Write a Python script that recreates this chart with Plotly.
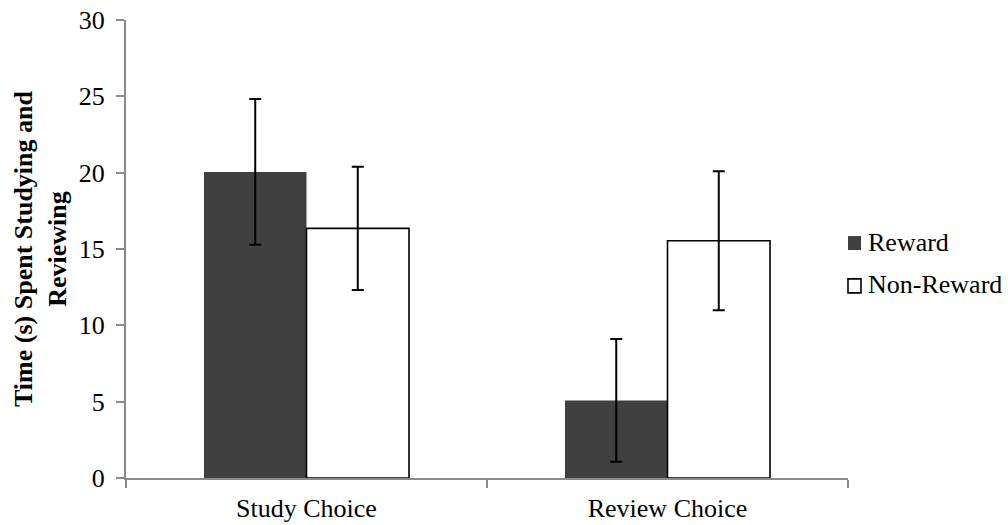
import plotly.graph_objects as go

# Data: mean time (s) per condition with error bar half-lengths
categories = ["Study Choice", "Review Choice"]
series_names = ["Reward", "Non-Reward"]
reward_means = [20.05, 5.08]
reward_err = [4.77, 4.02]
nonreward_means = [16.35, 15.54]
nonreward_err = [4.03, 4.55]
y_ticks = [0, 5, 10, 15, 20, 25, 30]

FONT = "Liberation Serif"
AXIS_GRAY = "#8a8a8a"
REWARD_FILL = "#404040"

fig = go.Figure()
fig.add_trace(go.Bar(
    x=categories, y=reward_means, name=series_names[0],
    marker=dict(color=REWARD_FILL, line=dict(width=0)),
    error_y=dict(type="data", array=reward_err, color="black", thickness=2, width=6),
    showlegend=False,
))
fig.add_trace(go.Bar(
    x=categories, y=nonreward_means, name=series_names[1],
    marker=dict(color="white", line=dict(color="black", width=1.6)),
    error_y=dict(type="data", array=nonreward_err, color="black", thickness=2, width=6),
    showlegend=False,
))

fig.update_layout(
    width=1008, height=525,
    margin=dict(l=126, r=160, t=20, b=47),
    paper_bgcolor="white", plot_bgcolor="white",
    barmode="group", bargap=0.432, bargroupgap=0,
    font=dict(family=FONT, size=26, color="black"),
    showlegend=False,
)
fig.update_xaxes(
    automargin=False,
    showline=True, linecolor=AXIS_GRAY, linewidth=2,
    ticks="outside", tickson="boundaries", ticklen=8, tickcolor=AXIS_GRAY, tickwidth=2,
    showgrid=False, zeroline=False,
    tickfont=dict(family=FONT, size=26, color="black"),
    ticklabelstandoff=6,
)
fig.update_yaxes(
    automargin=False,
    range=[0, 30], tickvals=y_ticks,
    showline=True, linecolor=AXIS_GRAY, linewidth=2,
    ticks="outside", ticklen=8, tickcolor=AXIS_GRAY, tickwidth=2,
    showgrid=False, zeroline=False,
    tickfont=dict(family=FONT, size=26, color="black"),
    ticklabelstandoff=6,
)

# Rotated two-line y-axis title
fig.add_annotation(
    text="<b>Time (s) Spent Studying and<br>Reviewing</b>",
    xref="paper", yref="paper", x=0, y=0.5, xanchor="center", yanchor="middle",
    xshift=-86, textangle=-90, showarrow=False,
    font=dict(family=FONT, size=26, color="black"),
)

# Legend: square swatch plus label for each series
legend_rows = [(series_names[0], REWARD_FILL, 0, 0.513),
               (series_names[1], "white", 1.6, 0.4194)]
for name, fill, lw, ypos in legend_rows:
    fig.add_shape(
        type="rect", xref="paper", yref="paper",
        xsizemode="pixel", ysizemode="pixel",
        xanchor=1.0, yanchor=ypos,
        x0=0, x1=13, y0=-7, y1=7,
        fillcolor=fill, line=dict(color="black" if lw else fill, width=lw),
    )
    fig.add_annotation(
        text=name, xref="paper", yref="paper", x=1.0, y=ypos,
        xanchor="left", yanchor="middle", xshift=18, yshift=1, showarrow=False,
        font=dict(family=FONT, size=26, color="black"),
    )

fig.write_html("out.html")
